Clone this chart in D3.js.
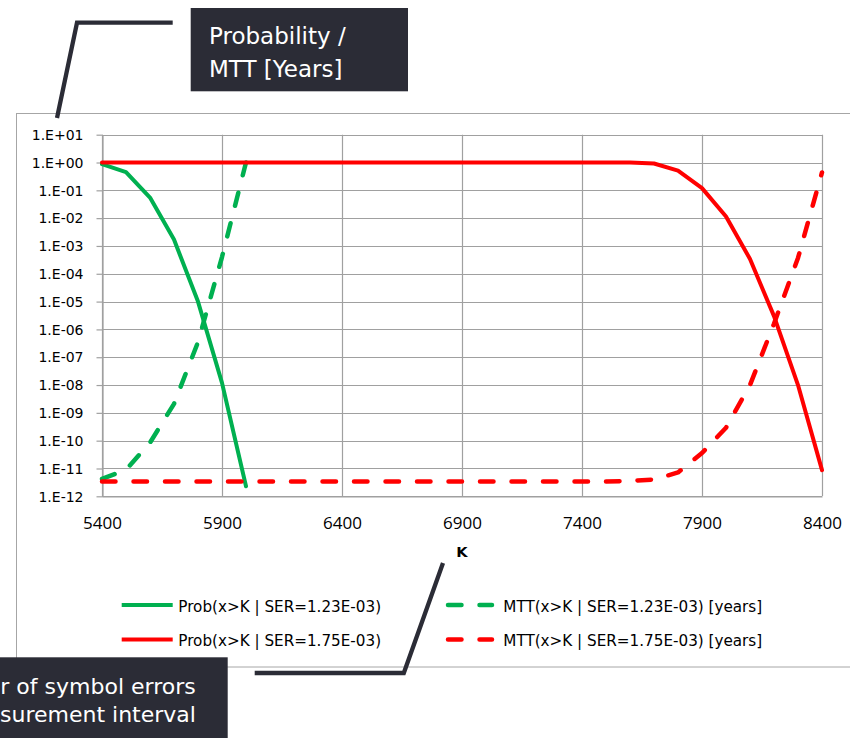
<!DOCTYPE html>
<html>
<head>
<meta charset="utf-8">
<script src="https://cdn.jsdelivr.net/npm/d3@7"></script>
<style>
  html, body { margin: 0; padding: 0; background: #ffffff; }
  svg { display: block; }
</style>
</head>
<body>
<svg id="chart" width="850" height="738"></svg>
<script>
// ---------------- DATA ----------------
const kValues = [5400, 5500, 5600, 5700, 5800, 5900, 6000, 6100, 6200, 6300,
                 6400, 6500, 6600, 6700, 6800, 6900, 7000, 7100, 7200, 7300,
                 7400, 7500, 7600, 7700, 7800, 7900, 8000, 8100, 8200, 8300, 8400];

// Prob(x>K | SER=1.23E-03)
const probSer123 = [0.87, 0.45, 0.055, 1.7e-3, 1e-5, 1.2e-8, 2.3e-12,
                    null, null, null, null, null, null, null, null, null, null, null, null, null,
                    null, null, null, null, null, null, null, null, null, null, null];
// MTT(x>K | SER=1.23E-03) [years]
const mttSer123 = [4.2e-12, 9e-12, 8.5e-11, 2.1e-9, 3.5e-7, 4e-4, 1.0,
                   null, null, null, null, null, null, null, null, null, null, null, null, null,
                   null, null, null, null, null, null, null, null, null, null, null];
// Prob(x>K | SER=1.75E-03)
const probSer175 = [1, 1, 1, 1, 1, 1, 1, 1, 1, 1, 1, 1, 1, 1, 1, 1, 1, 1, 1, 1, 1, 1,
                    0.999, 0.92, 0.51, 0.12, 0.0115, 3.4e-4, 3e-6, 1e-8, 8.7e-12];
// MTT(x>K | SER=1.75E-03) [years]
const mttSer175 = [3.4e-12, 3.4e-12, 3.4e-12, 3.4e-12, 3.4e-12, 3.4e-12, 3.4e-12, 3.4e-12,
                   3.4e-12, 3.4e-12, 3.4e-12, 3.4e-12, 3.4e-12, 3.4e-12, 3.4e-12, 3.4e-12,
                   3.4e-12, 3.4e-12, 3.4e-12, 3.4e-12, 3.4e-12, 3.4e-12,
                   3.6e-12, 4e-12, 7.2e-12, 3.6e-11, 2.9e-10, 1.0e-8, 1.6e-6, 3.7e-4, 0.44];

const xTickValues = [5400, 5900, 6400, 6900, 7400, 7900, 8400];
const yTickValues = [1e1, 1e0, 1e-1, 1e-2, 1e-3, 1e-4, 1e-5, 1e-6, 1e-7, 1e-8, 1e-9, 1e-10, 1e-11, 1e-12];
const yTickLabels = ["1.E+01", "1.E+00", "1.E-01", "1.E-02", "1.E-03", "1.E-04", "1.E-05",
                     "1.E-06", "1.E-07", "1.E-08", "1.E-09", "1.E-10", "1.E-11", "1.E-12"];

const seriesNames = ["Prob(x>K | SER=1.23E-03)", "MTT(x>K | SER=1.23E-03) [years]",
                     "Prob(x>K | SER=1.75E-03)", "MTT(x>K | SER=1.75E-03) [years]"];
const seriesColors = ["#00B050", "#00B050", "#FF0000", "#FF0000"];
const seriesDashed = [false, true, false, true];
const seriesValues = [probSer123, mttSer123, probSer175, mttSer175];

const xAxisTitle = "K";
const calloutTop = ["Probability /", "MTT [Years]"];
const calloutBottom = ["Number of symbol errors", "in measurement interval"];

// ---------------- LAYOUT ----------------
const svg = d3.select("#chart");
const plot = { left: 102, right: 822, top: 134.7, bottom: 496.3 };
const x = d3.scaleLinear().domain([5400, 8400]).range([plot.left, plot.right]);
const y = d3.scaleLog().domain([1e-12, 1e1]).range([plot.bottom, plot.top]);

const gridColor = "#a0a0a0";
const dark = "#2b2c36";
const dashArr = "13.5,18";

// chart frame
svg.append("rect")
  .attr("x", 16.5).attr("y", 113.5)
  .attr("width", 900).attr("height", 553.5)
  .attr("fill", "#ffffff").attr("stroke", "#a6a6a6").attr("stroke-width", 1);

// horizontal grid
svg.append("g").selectAll("line").data(yTickValues).join("line")
  .attr("x1", plot.left).attr("x2", plot.right)
  .attr("y1", d => Math.round(y(d)) + 0.5).attr("y2", d => Math.round(y(d)) + 0.5)
  .attr("stroke", gridColor).attr("stroke-width", 1.2);

// vertical grid
svg.append("g").selectAll("line").data(xTickValues).join("line")
  .attr("y1", plot.top).attr("y2", plot.bottom)
  .attr("x1", d => Math.round(x(d)) + 0.5).attr("x2", d => Math.round(x(d)) + 0.5)
  .attr("stroke", gridColor).attr("stroke-width", 1.2);

// y axis
const yAxis = d3.axisLeft(y)
  .tickValues(yTickValues)
  .tickFormat((d, i) => yTickLabels[i])
  .tickSize(6).tickSizeOuter(0).tickPadding(13);
const gy = svg.append("g").attr("transform", `translate(${plot.left + 0.5},0)`).call(yAxis);
gy.selectAll("path, line").attr("stroke", gridColor).attr("stroke-width", 1.2);
gy.selectAll("text")
  .attr("font-family", "'DejaVu Sans', sans-serif").attr("font-size", 14)
  .attr("fill", "#000").attr("dy", "0.34em");

// x axis
const xAxis = d3.axisBottom(x).tickValues(xTickValues).tickFormat(d3.format("d"))
  .tickSize(0).tickSizeOuter(0);
const gx = svg.append("g").attr("transform", `translate(0,${Math.round(plot.bottom) + 0.5})`).call(xAxis);
gx.selectAll("path").attr("stroke", gridColor).attr("stroke-width", 1.2);
gx.selectAll("text")
  .attr("font-family", "'Open Sans', sans-serif").attr("font-size", 17)
  .attr("fill", "#000").attr("y", 32).attr("dy", 0);

// x axis title
svg.append("text")
  .attr("x", (plot.left + plot.right) / 2).attr("y", 557.3)
  .attr("text-anchor", "middle")
  .attr("font-family", "'DejaVu Sans', sans-serif").attr("font-weight", "bold")
  .attr("font-size", 14.6).attr("fill", "#000")
  .text(xAxisTitle);

// series
const line = d3.line()
  .defined(d => d.v !== null)
  .x(d => x(d.k)).y(d => y(d.v));

const drawOrder = [0, 1, 2, 3];
drawOrder.forEach(i => {
  const pts = kValues.map((k, j) => ({ k: k, v: seriesValues[i][j] }));
  svg.append("path")
    .datum(pts)
    .attr("d", line)
    .attr("fill", "none")
    .attr("stroke", seriesColors[i])
    .attr("stroke-width", seriesDashed[i] ? 4.5 : 4)
    .attr("stroke-linejoin", "round")
    .attr("stroke-linecap", "round")
    .attr("stroke-dasharray", seriesDashed[i] ? dashArr : null);
});

// legend
const legendItems = [
  { i: 0, lx: 121.7, ly: 605 },
  { i: 1, lx: 448, ly: 605 },
  { i: 2, lx: 121.7, ly: 639.5 },
  { i: 3, lx: 448, ly: 639.5 }
];
const lg = svg.append("g");
legendItems.forEach(it => {
  const dashed = seriesDashed[it.i];
  const x1 = it.lx, x2 = dashed ? it.lx + 44 : it.lx + 51;
  lg.append("line")
    .attr("x1", x1).attr("x2", x2).attr("y1", it.ly).attr("y2", it.ly)
    .attr("stroke", seriesColors[it.i])
    .attr("stroke-width", dashed ? 4.5 : 4)
    .attr("stroke-linecap", dashed ? "round" : "butt")
    .attr("stroke-dasharray", dashed ? dashArr : null);
  lg.append("text")
    .attr("x", dashed ? 503.3 : 178.3).attr("y", it.ly + 6.5)
    .attr("font-family", "'DejaVu Sans', sans-serif").attr("font-size", 15.2)
    .attr("fill", "#000")
    .text(seriesNames[it.i]);
});

// callout connectors
svg.append("polyline")
  .attr("points", "172.7,22.7 77,22.7 57,118")
  .attr("fill", "none").attr("stroke", dark).attr("stroke-width", 4.3)
  .attr("stroke-linejoin", "miter");
svg.append("polyline")
  .attr("points", "254.7,673 403.8,673 443,563")
  .attr("fill", "none").attr("stroke", dark).attr("stroke-width", 4.3)
  .attr("stroke-linejoin", "miter");

// top callout box
svg.append("rect")
  .attr("x", 190.7).attr("y", 8).attr("width", 217.3).attr("height", 83.3)
  .attr("fill", dark);
svg.append("g").selectAll("text").data(calloutTop).join("text")
  .attr("x", 209).attr("y", (d, i) => 43.5 + i * 33)
  .attr("font-family", "'DejaVu Sans', sans-serif").attr("font-size", 23)
  .attr("fill", "#ffffff")
  .text(d => d);

// bottom callout box (partially off-canvas)
svg.append("rect")
  .attr("x", -220).attr("y", 657.3).attr("width", 447.7).attr("height", 120)
  .attr("fill", dark);
svg.append("g").selectAll("text").data(calloutBottom).join("text")
  .attr("x", (d, i) => i === 0 ? -79 : -75.5).attr("y", (d, i) => 693.5 + i * 28)
  .attr("font-family", "'DejaVu Sans', sans-serif").attr("font-size", 22)
  .attr("fill", "#ffffff")
  .text(d => d);
</script>
</body>
</html>
